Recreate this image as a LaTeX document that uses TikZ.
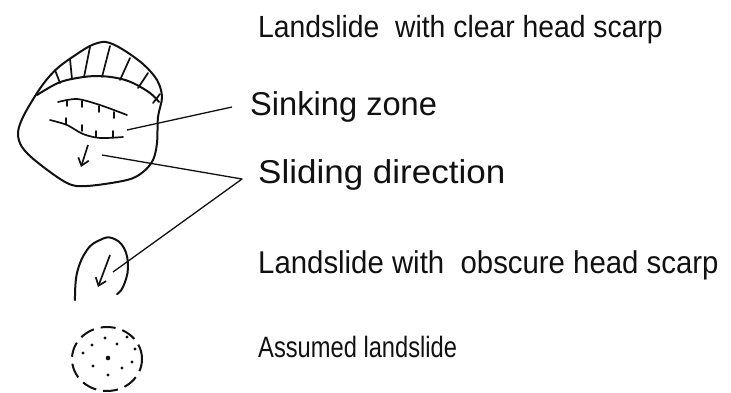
\documentclass[tikz,border=0pt]{standalone}
\usepackage{fontspec}
\setmainfont{Liberation Sans}
\usetikzlibrary{arrows.meta}
\definecolor{ink}{HTML}{111111}
% stretch a legend line: #1 across, #2 up
\newcommand{\lettered}[3]{\scalebox{#1}[#2]{#3}}
\tikzset{
  legend/.style={font=\fontsize{30}{32}\selectfont,text=ink,anchor=base west,inner sep=0pt},
  outline/.style={draw=ink,line width=2pt,line join=round,line cap=round},
  hatch/.style={draw=ink,line width=1.7pt,line cap=round},
  leader/.style={draw=ink,line width=1.3pt,line join=round},
  slip/.style={-{Straight Barb[length=7pt,width=11pt]},draw=ink,line width=1.7pt},
  guess/.style={draw=ink,line width=2pt,dash pattern=on 15pt off 7pt}
}

\begin{document}
\begin{tikzpicture}[x=1pt,y=-1pt]
\path[use as bounding box] (0,0) rectangle (731,392);

% legend texts
\node[legend] (clear) at (258,37) {\lettered{0.944}{1.02}{Landslide\ \ with clear head scarp}};
\node[legend] (sink) at (250,115) {\lettered{1.088}{1.1}{Sinking zone}};
\node[legend] (slide) at (258,183) {\lettered{1.167}{1.1}{Sliding direction}};
\node[legend] (obscure) at (258,273) {\lettered{0.979}{1.05}{Landslide with\ \ obscure head scarp}};
\node[legend] (assumed) at (258,357) {\lettered{0.79}{0.98}{Assumed landslide}};

% landslide with clear head scarp
\draw[outline] plot[smooth cycle,tension=0.55] coordinates {
  (37,93) (48,78) (60,66) (77,54) (92,45) (106,42) (122,49) (143,64)
  (157,80) (162,97) (158,117) (157,143) (153,160) (143,172) (127,180)
  (87,186) (67,183) (37,162) (22,147) (18,133) (23,117)};
\draw[outline] plot[smooth,tension=0.6] coordinates {
  (37,95) (58,83) (77,78) (97,76) (117,78) (133,83) (150,93) (159,102)};
\foreach \a/\b/\c/\d in {60/83/55/70, 72/79/70/59, 84/77/90/47,
    102/77/110/46, 120/80/130/58, 138/88/148/73, 153/103/160/94}
  \draw[hatch] (\a,\b) -- (\c,\d);

% sinking zone
\draw[hatch] plot[smooth] coordinates {(58,102) (77,99) (100,105) (127,115)};
\foreach \a/\b in {67/100, 82/101, 99/106, 114/112}
  \draw[hatch] (\a,\b) -- ++(0,6);
\draw[hatch] plot[smooth] coordinates {(50,120) (67,125) (83,134) (100,138) (123,137)};
\foreach \a/\b in {66/124, 82/131, 96/137, 113/137}
  \draw[hatch] (\a,\b) -- ++(0,-6);

% sliding direction
\coordinate (bigtail) at (88,145);
\coordinate (bighead) at (81,167);
\draw[slip] (bigtail) -- (bighead);

% landslide with obscure head scarp
\draw[outline] plot[smooth,tension=0.7] coordinates {
  (75,300) (77,273) (87,250) (100,240) (112,238) (124,248) (128,268)
  (123,287) (117,294)};
\coordinate (smalltail) at (110,255);
\coordinate (smallhead) at (98,287);
\draw[slip] (smalltail) -- (smallhead);

% assumed landslide
\draw[guess] (107,359) ellipse (35pt and 32pt);
\foreach \a/\b in {105/338, 127/337, 92/345, 117/344, 135/349, 83/353,
    132/362, 93/366, 122/368, 108/375}
  \fill[ink] (\a,\b) circle (1.7pt);
\fill[ink] (108,358) circle (2.3pt);

% leaders
\coordinate (sinktip) at (127,130);
\coordinate (sinkend) at (232,107);
\draw[leader] (sinktip) -- (sinkend);
\coordinate (dirtip) at (102,155);
\coordinate (bend) at (242,179);
\coordinate (dirend) at (113,272);
\draw[leader] (dirtip) -- (bend) -- (dirend);
\end{tikzpicture}
\end{document}
